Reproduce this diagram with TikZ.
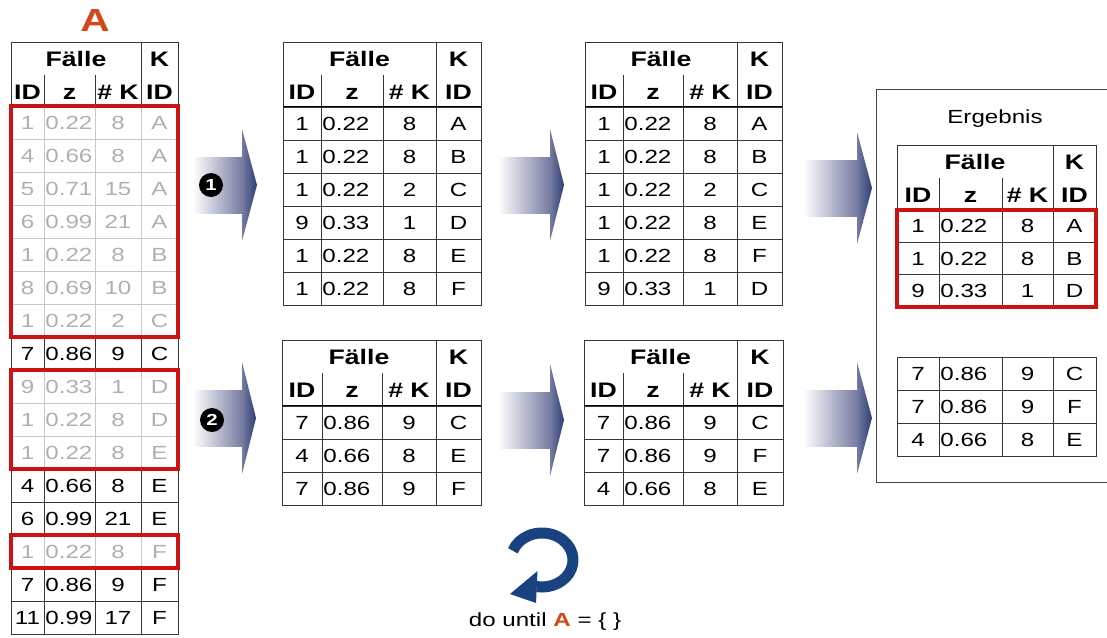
\documentclass[tikz,border=0pt]{standalone}
\usepackage{fontspec}
\setmainfont[FakeStretch=1.27]{Liberation Sans}
\definecolor{redbox}{RGB}{204,18,18}
\definecolor{titleor}{RGB}{214,70,24}
\definecolor{greytxt}{RGB}{176,176,176}
\definecolor{greyln}{RGB}{200,200,200}
\definecolor{gridln}{RGB}{55,55,55}
\definecolor{arrmid}{RGB}{118,124,162}
\definecolor{arrdark}{RGB}{45,62,115}
\definecolor{cycblue}{RGB}{24,66,128}
\newcommand\fs[1]{\fontsize{#1}{#1}\selectfont}
\newcommand\setcols[5]{\def\xa{#1}\def\xb{#2}\def\xc{#3}\def\xd{#4}\def\xe{#5}}
\def\lc{gridln}\def\tc{black}
\tikzset{
 tline/.style={draw=gridln, line width=0.9pt},
 hd/.style={font=\fs{21}\bfseries, inner sep=0pt, text height=15pt, text depth=0pt},
 cell/.style={font=\fs{19}, inner sep=0pt, text height=13.6pt, text depth=0pt},
 redbx/.style={draw=redbox, line width=3.6pt},
 numc/.style={circle, fill=black, text=white, font=\fs{16}\bfseries, inner sep=0pt, minimum size=24pt},
}
\newcommand\thead[3]{%
  \draw[tline] (\xa,#2) rectangle (\xe,#3);
  \draw[tline] (\xd,#2) -- (\xd,#3);
  \draw[tline] (\xb,#2+33) -- (\xb,#3);
  \draw[tline] (\xc,#2+33) -- (\xc,#3);
  \node[hd] (#1-f) at ({(\xa+\xd)/2},#2+17) {Fälle};
  \node[hd] (#1-k) at ({(\xd+\xe)/2},#2+17) {K};
  \node[hd] (#1-h1) at ({(\xa+\xb)/2},#2+50) {ID};
  \node[hd] (#1-h2) at ({(\xb+\xc)/2},#2+50) {z};
  \node[hd] (#1-h3) at ({(\xc+\xd)/2},#2+50) {\# K};
  \node[hd] (#1-h4) at ({(\xd+\xe)/2},#2+50) {ID};
  \draw[line width=2.6pt] (\xa,#3) -- (\xe,#3);
}
\newcommand\trow[7]{%
  \draw[draw=\lc, line width=0.9pt] (\xa,#2) rectangle (\xe,#3) (\xb,#2) -- (\xb,#3) (\xc,#2) -- (\xc,#3) (\xd,#2) -- (\xd,#3);
  \node[cell, text=\tc] (#1-a) at ({(\xa+\xb)/2},{(#2+#3)/2}) {#4};
  \node[cell, text=\tc, anchor=west] (#1-b) at ({\xb+1.2},{(#2+#3)/2}) {#5};
  \node[cell, text=\tc] (#1-c) at ({(\xc+\xd)/2},{(#2+#3)/2}) {#6};
  \node[cell, text=\tc] (#1-d) at ({(\xd+\xe)/2},{(#2+#3)/2}) {#7};
}
\newcommand\garrow[4]{%
 \shade[left color=white, right color=arrmid] (#1,#4-28) rectangle (#2,#4+28);
 \shade[left color=arrmid, right color=arrdark] (#2,#4-56) -- (#3,#4) -- (#2,#4+56) -- cycle;
}
\begin{document}
\begin{tikzpicture}[x=1pt,y=-1pt]
\useasboundingbox (0,0) rectangle (1107,637);
\clip (0,0) rectangle (1107,637);
\fill[white] (0,0) rectangle (1107,637);

% title A
\node[font=\fs{32}\bfseries, text=titleor, inner sep=0pt] (titleA) at (95,20) {A};

% left table
\setcols{11}{44}{95}{141}{178}
\thead{L}{42}{106}
\foreach \vg/\va/\vb/\vc/\vd [count=\i from 0] in {1/1/0.22/8/A,1/4/0.66/8/A,1/5/0.71/15/A,1/6/0.99/21/A,1/1/0.22/8/B,1/8/0.69/10/B,1/1/0.22/2/C,0/7/0.86/9/C,1/9/0.33/1/D,1/1/0.22/8/D,1/1/0.22/8/E,0/4/0.66/8/E,0/6/0.99/21/E,1/1/0.22/8/F,0/7/0.86/9/F,0/11/0.99/17/F}{
  \ifnum\vg=1 \def\lc{greyln}\def\tc{greytxt}\else\def\lc{gridln}\def\tc{black}\fi
  \trow{L\i}{106+33*\i}{139+33*\i}{\va}{\vb}{\vc}{\vd}
}
\draw[redbx] (11,106) rectangle (178,337);
\draw[redbx] (11,370) rectangle (178,469);
\draw[redbx] (11,535) rectangle (178,568);

% table 1
\setcols{283}{321}{383}{436}{481}
\thead{T1}{42}{107}
\foreach \va/\vb/\vc/\vd [count=\i from 0] in {1/0.22/8/A,1/0.22/8/B,1/0.22/2/C,9/0.33/1/D,1/0.22/8/E,1/0.22/8/F}{
  \trow{T1r\i}{107+33*\i}{140+33*\i}{\va}{\vb}{\vc}{\vd}
}
% table 2
\setcols{585}{623}{683}{737}{782}
\thead{T2}{42}{107}
\foreach \va/\vb/\vc/\vd [count=\i from 0] in {1/0.22/8/A,1/0.22/8/B,1/0.22/2/C,1/0.22/8/E,1/0.22/8/F,9/0.33/1/D}{
  \trow{T2r\i}{107+33*\i}{140+33*\i}{\va}{\vb}{\vc}{\vd}
}
% table 3
\setcols{282}{322}{382}{436}{481}
\thead{T3}{340}{406}
\foreach \va/\vb/\vc/\vd [count=\i from 0] in {7/0.86/9/C,4/0.66/8/E,7/0.86/9/F}{
  \trow{T3r\i}{406+33*\i}{439+33*\i}{\va}{\vb}{\vc}{\vd}
}
% table 4
\setcols{584}{623}{683}{737}{783}
\thead{T4}{340}{406}
\foreach \va/\vb/\vc/\vd [count=\i from 0] in {7/0.86/9/C,7/0.86/9/F,4/0.66/8/E}{
  \trow{T4r\i}{406+33*\i}{439+33*\i}{\va}{\vb}{\vc}{\vd}
}

% result box
\draw[draw=gray!55!black, line width=1pt] (876,89) rectangle (1125,482);
\node[font=\fs{19}, inner sep=0pt] (erg) at (995,119) {Ergebnis};
\setcols{897}{939}{1002}{1053}{1096}
\thead{R1}{145}{210}
\foreach \va/\vb/\vc/\vd [count=\i from 0] in {1/0.22/8/A,1/0.22/8/B,9/0.33/1/D}{
  \trow{R1r\i}{210+32.33*\i}{242.33+32.33*\i}{\va}{\vb}{\vc}{\vd}
}
\draw[redbx] (897,210) rectangle (1096,307);
\foreach \va/\vb/\vc/\vd [count=\i from 0] in {7/0.86/9/C,7/0.86/9/F,4/0.66/8/E}{
  \trow{R2r\i}{357+33*\i}{390+33*\i}{\va}{\vb}{\vc}{\vd}
}

% arrows
\garrow{193}{242}{257}{185}
\garrow{193}{242}{256}{418}
\garrow{498}{550}{564}{185}
\garrow{498}{550}{564}{420}
\garrow{803}{857}{872}{188}
\garrow{803}{857}{872}{418}
\node[numc] (n1) at (211,185) {1};
\node[numc] (n2) at (212,420) {2};

% cycle icon
\draw[cycblue, line width=11pt] ([shift={(542,560)}]-160:31 and 27) arc[start angle=-160, end angle=100, x radius=31, y radius=27];
\fill[cycblue] (537.5,571) -- (510,594) -- (536,603) -- cycle;
\node[font=\fs{19}, inner sep=0pt] (dountil) at (545,622) {do until \textcolor{titleor}{\textbf{A}} = \{ \}};
\end{tikzpicture}
\end{document}
